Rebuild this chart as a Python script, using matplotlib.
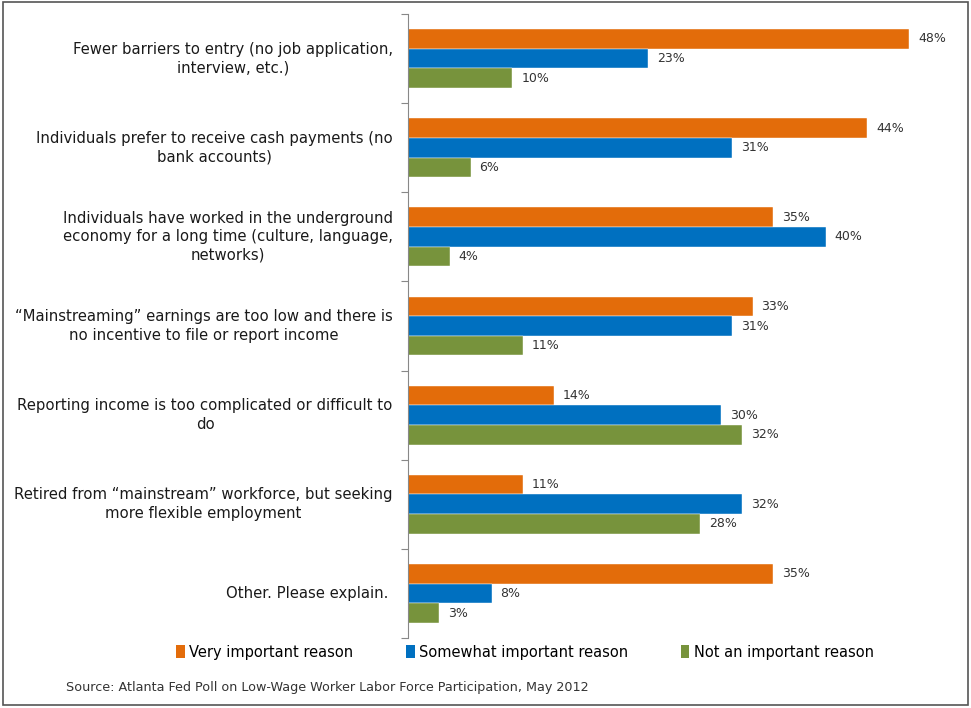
import matplotlib
matplotlib.use("Agg")
import matplotlib.pyplot as plt
from matplotlib.patches import Patch, Rectangle

categories = [
    "Fewer barriers to entry (no job application,\ninterview, etc.)",
    "Individuals prefer to receive cash payments (no\nbank accounts)",
    "Individuals have worked in the underground\neconomy for a long time (culture, language,\nnetworks)",
    "\u201cMainstreaming\u201d earnings are too low and there is\nno incentive to file or report income",
    "Reporting income is too complicated or difficult to\ndo",
    "Retired from \u201cmainstream\u201d workforce, but seeking\nmore flexible employment",
    "Other. Please explain. ",
]
very = [48, 44, 35, 33, 14, 11, 35]
somewhat = [23, 31, 40, 31, 30, 32, 8]
not_imp = [10, 6, 4, 11, 32, 28, 3]

series = [
    ("Very important reason", very, "#E36C0A"),
    ("Somewhat important reason", somewhat, "#0070C0"),
    ("Not an important reason", not_imp, "#77933C"),
]

fig = plt.figure(figsize=(9.71, 7.08), dpi=100)
ax = fig.add_axes([408 / 971, 1 - 638 / 708, (951 - 408) / 971, (638 - 14) / 708])

n = len(categories)
bh = 0.22
for j, (name, vals, col) in enumerate(series):
    ys = [i + 0.5 + (j - 1) * bh for i in range(n)]
    ax.barh(ys, vals, height=bh, color=col, edgecolor="white", linewidth=0.3)
    for y, v in zip(ys, vals):
        ax.text(v + 0.85, y, f"{v}%", va="center", ha="left",
                fontsize=9, color="#333333")

ax.set_xlim(0, 52)
ax.set_ylim(n, 0)
ax.set_xticks([])
ax.set_yticks(range(n + 1))
ax.set_yticklabels([])
ax.tick_params(axis="y", which="major", length=5, color="#888888", direction="out")
for i, lab in enumerate(categories):
    ax.annotate(lab, xy=(0, i + 0.5), xycoords=("axes fraction", "data"),
                xytext=(-11, 0), textcoords="offset points",
                ha="right", va="center", multialignment="center",
                fontsize=10.7, linespacing=1.3, color="#1a1a1a")
for s in ["top", "right", "bottom"]:
    ax.spines[s].set_visible(False)
ax.spines["left"].set_color("#888888")

handles = [Patch(facecolor=c, label=nm) for nm, _, c in series]
fig.legend(handles=handles, loc="center", bbox_to_anchor=(525 / 971, 1 - 652 / 708),
           ncol=3, frameon=False, fontsize=10.5, handlelength=0.6, handleheight=0.9,
           handletextpad=0.3, columnspacing=3.6)

fig.text(66 / 971, 1 - 688 / 708,
         "Source: Atlanta Fed Poll on Low-Wage Worker Labor Force Participation, May 2012",
         fontsize=9.2, color="#333333", va="center", ha="left")

fig.patches.append(Rectangle((3 / 971, 3 / 708), 965 / 971, 703 / 708,
                             transform=fig.transFigure, fill=False,
                             edgecolor="#555555", linewidth=1.2))

fig.savefig("out.png", dpi=100)
